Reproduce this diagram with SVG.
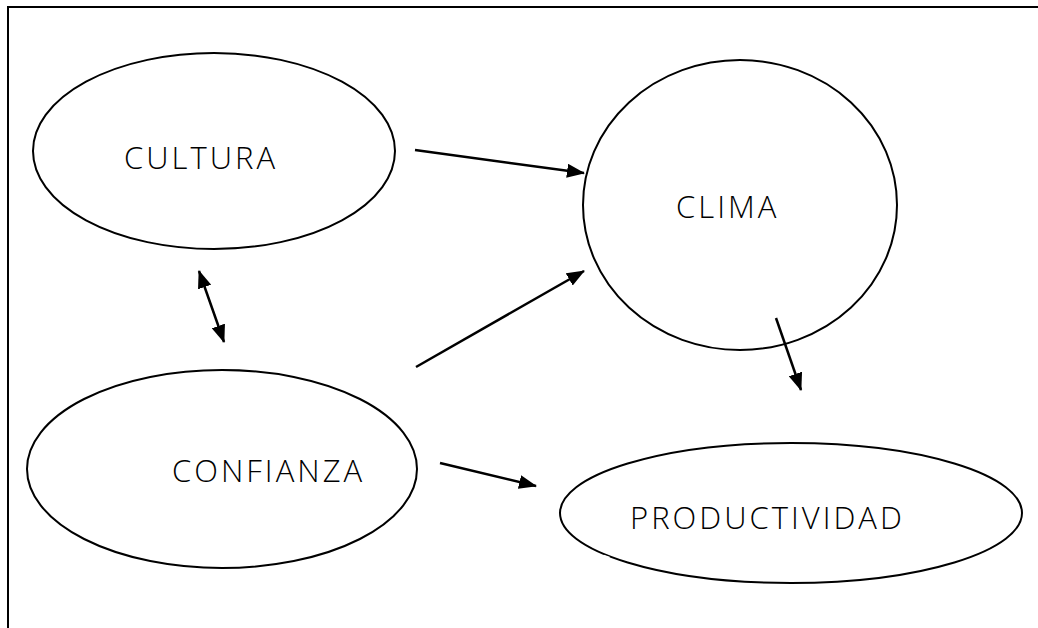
<svg xmlns="http://www.w3.org/2000/svg" width="1038" height="628" viewBox="0 0 1038 628">
<style>
.frame{fill:none;stroke:#000;stroke-width:2}
.node ellipse{fill:none;stroke:#000;stroke-width:2}
.node text{font-family:"Open Sans","Liberation Sans",sans-serif;font-weight:300;font-size:31px;fill:#000;letter-spacing:3px;text-anchor:start}
.conn line{stroke:#000;stroke-width:2.5}
.gap{stroke:#fff;stroke-width:5;fill:none}
</style>
<defs>
<marker id="ah" viewBox="0 0 18 14" refX="17" refY="7" markerWidth="18" markerHeight="14" markerUnits="userSpaceOnUse" orient="auto-start-reverse">
<path d="M0,0 L18,7 L0,14 z" fill="#000"/>
</marker>
</defs>
<rect width="1038" height="628" fill="#fff"/>
<path class="frame" d="M8,628 L8,7 L1038,7"/>
<g id="cultura" class="node">
<ellipse cx="214" cy="151" rx="181" ry="98"/>
<text x="124" y="169">CULTURA</text>
</g>
<g id="clima" class="node">
<ellipse cx="740" cy="205" rx="157" ry="145"/>
<text x="676" y="218">CLIMA</text>
</g>
<g id="confianza" class="node">
<ellipse cx="222" cy="469" rx="195" ry="99"/>
<text x="172" y="482">CONFIANZA</text>
<line class="gap" x1="390" y1="514" x2="396" y2="507"/>
</g>
<g id="productividad" class="node">
<ellipse cx="791" cy="513" rx="231" ry="70"/>
<text x="630" y="529">PRODUCTIVIDAD</text>
<line class="gap" x1="603" y1="557" x2="609" y2="559"/>
<line class="gap" x1="943" y1="559" x2="949" y2="557"/>
</g>
<g id="connectors" class="conn">
<line x1="415" y1="150" x2="584" y2="173" marker-end="url(#ah)"/>
<line x1="199" y1="271" x2="224" y2="342" marker-start="url(#ah)" marker-end="url(#ah)"/>
<line x1="416" y1="367" x2="584" y2="271" marker-end="url(#ah)"/>
<line x1="776" y1="318" x2="801" y2="390" marker-end="url(#ah)"/>
<line x1="440" y1="463" x2="536" y2="486" marker-end="url(#ah)"/>
</g>
</svg>
